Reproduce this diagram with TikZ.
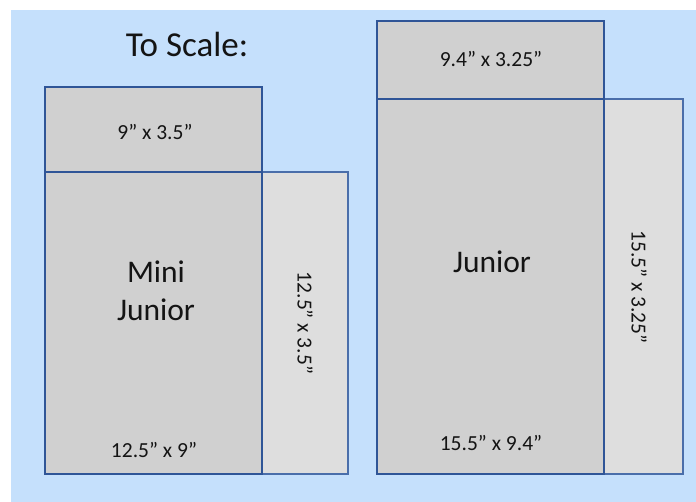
\documentclass[tikz,border=0pt]{standalone}
\usepackage{fontspec}
\setmainfont{Carlito}
\definecolor{bgblue}{RGB}{197,224,252}
\definecolor{maingray}{RGB}{208,208,208}
\definecolor{sidegray}{RGB}{222,222,222}
\definecolor{edgeblue}{RGB}{47,85,151}
\definecolor{sideedge}{RGB}{74,110,170}
\definecolor{txt}{RGB}{20,20,20}
\begin{document}
\begin{tikzpicture}[x=1pt,y=-1pt,
  panel/.style={draw=edgeblue, fill=maingray, line width=1.5pt, anchor=north west, inner sep=0pt, outer sep=0pt},
  sidepanel/.style={draw=sideedge, fill=sidegray, line width=1.5pt, anchor=north west, inner sep=0pt, outer sep=0pt},
  small/.style={font=\fontsize{21.5}{26}\selectfont, text=txt, inner sep=0pt},
  big/.style={font=\fontsize{31.5}{38}\selectfont, text=txt, align=center, inner sep=0pt}]
\useasboundingbox (0,0) rectangle (696,502);
\fill[bgblue] (11,10) rectangle (696,502);
\node[font=\fontsize{35}{42}\selectfont, text=txt, inner sep=0pt] (title) at (187,44) {To Scale:};
% Mini Junior
\node[sidepanel, minimum width=86, minimum height=302] (mside) at (262,172) {};
\node[panel, minimum width=217, minimum height=85] (mtop) at (45,87) {};
\node[panel, minimum width=217, minimum height=302] (mmain) at (45,172) {};
\node[small] (mtoplab) at (155,132) {9” x 3.5”};
\node[big] (mname) at (156,291) {Mini\\Junior};
\node[small] (mmainlab) at (154,450) {12.5” x 9”};
\node[small, rotate=-90] (msidelab) at (mside.center) {12.5” x 3.5”};
% Junior
\node[sidepanel, minimum width=79, minimum height=375] (jside) at (604,99) {};
\node[panel, minimum width=227, minimum height=78] (jtop) at (377,21) {};
\node[panel, minimum width=227, minimum height=375] (jmain) at (377,99) {};
\node[small] (jtoplab) at (491,59) {9.4” x 3.25”};
\node[big] (jname) at (492,262) {Junior};
\node[small] (jmainlab) at (491,443) {15.5” x 9.4”};
\node[small, rotate=-90] (jsidelab) at (639,287) {15.5” x 3.25”};
\end{tikzpicture}
\end{document}
